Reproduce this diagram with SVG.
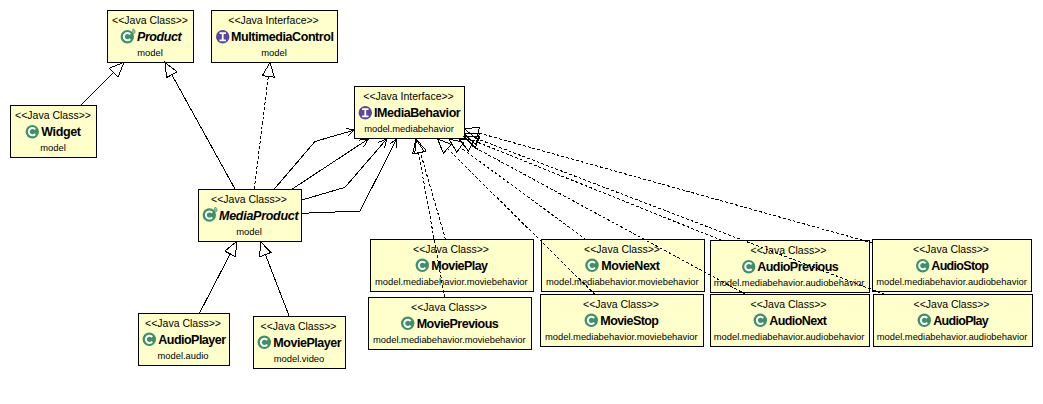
<svg xmlns="http://www.w3.org/2000/svg" width="1043" height="404" viewBox="0 0 1043 404">
<style>
text{font-family:"Liberation Sans",Arial,sans-serif;fill:#000}
.b{fill:#ffffcc;stroke:#000;stroke-width:1;shape-rendering:crispEdges}
.s{font-size:10.5px;text-anchor:middle}
.n{font-size:12.5px;font-weight:bold}
.i{font-style:italic}
.p{font-size:9.4px;text-anchor:middle}
.c{fill:none;stroke:#000;stroke-width:1;shape-rendering:crispEdges}
.m{fill:none;stroke:#000;stroke-width:1;shape-rendering:crispEdges}
.d{stroke-dasharray:3 2}
.g{marker-end:url(#tri)}
.o{marker-end:url(#open)}
</style>
<defs>
<marker id="tri" markerUnits="userSpaceOnUse" markerWidth="16" markerHeight="14" refX="0" refY="7" orient="auto" overflow="visible"><path class="m" d="M0,1 L14,7 L0,13 Z"/></marker>
<marker id="open" markerUnits="userSpaceOnUse" markerWidth="10" markerHeight="10" refX="9" refY="5" orient="auto" overflow="visible"><path class="m" d="M1,1 L9,5 L1,9"/></marker>
<g id="ic"><circle r="6.7" fill="#3f8f68"/><path d="M2.9,-2.3 A3.6,3.6 0 1 0 2.9,2.3" fill="none" stroke="#fff" stroke-width="2"/></g>
<g id="ia"><use href="#ic"/><path d="M6,-8 C8,-6 8.5,-4.5 7,-3.2 C5,-2.5 4,-5 6,-8 Z" fill="#8cc4a4" stroke="#3f8f68" stroke-width=".7"/></g>
<g id="ii"><circle r="6.7" fill="#5a479f"/><path d="M-3.2,-3.6 H3.2 M-3.2,3.6 H3.2 M0,-3.6 V3.6" fill="none" stroke="#fff" stroke-width="1.8"/></g>
</defs>

<g id="Product"><rect class="b" x="107.5" y="10.5" width="86" height="52"/><text class="s" x="150" y="24">&lt;&lt;Java Class&gt;&gt;</text><use href="#ia" x="127.3" y="36.7"/><text class="n i" x="137" y="41" textLength="44.7">Product</text><text class="p" x="150" y="56">model</text></g>
<g id="MultimediaControl"><rect class="b" x="211.5" y="10.5" width="126" height="52"/><text class="s" x="273.5" y="24">&lt;&lt;Java Interface&gt;&gt;</text><use href="#ii" x="222.7" y="36.7"/><text class="n" x="231" y="41" textLength="103">MultimediaControl</text><text class="p" x="274" y="56">model</text></g>
<g id="Widget"><rect class="b" x="10.5" y="105.5" width="86" height="52"/><text class="s" x="53" y="119">&lt;&lt;Java Class&gt;&gt;</text><use href="#ic" x="32.3" y="131.7"/><text class="n" x="41.3" y="136" textLength="39.7">Widget</text><text class="p" x="53" y="151">model</text></g>
<g id="IMediaBehavior"><rect class="b" x="354.5" y="86.5" width="110" height="52"/><text class="s" x="408.5" y="100">&lt;&lt;Java Interface&gt;&gt;</text><use href="#ii" x="365.3" y="112.7"/><text class="n" x="374" y="117" textLength="86.7">IMediaBehavior</text><text class="p" x="409" y="132">model.mediabehavior</text></g>
<g id="MediaProduct"><rect class="b" x="198.5" y="189.5" width="103" height="52"/><text class="s" x="249" y="203">&lt;&lt;Java Class&gt;&gt;</text><use href="#ia" x="209.3" y="215"/><text class="n i" x="219" y="220" textLength="79.7">MediaProduct</text><text class="p" x="249" y="235">model</text></g>
<g id="AudioPlayer"><rect class="b" x="138.5" y="313.5" width="91" height="52"/><text class="s" x="183" y="327">&lt;&lt;Java Class&gt;&gt;</text><use href="#ic" x="149.3" y="339.3"/><text class="n" x="158.3" y="344" textLength="67.7">AudioPlayer</text><text class="p" x="183" y="359">model.audio</text></g>
<g id="MoviePlayer"><rect class="b" x="253.5" y="316.5" width="92" height="52"/><text class="s" x="298.5" y="330">&lt;&lt;Java Class&gt;&gt;</text><use href="#ic" x="264.3" y="342.3"/><text class="n" x="273.3" y="347" textLength="68.4">MoviePlayer</text><text class="p" x="299" y="362">model.video</text></g>
<g id="MoviePlay"><rect class="b" x="370.5" y="239.5" width="163" height="52"/><text class="s" x="451" y="253">&lt;&lt;Java Class&gt;&gt;</text><use href="#ic" x="422.3" y="265.3"/><text class="n" x="431.3" y="270" textLength="56.7">MoviePlay</text><text class="p" x="451.3" y="285">model.mediabehavior.moviebehavior</text></g>
<g id="MoviePrevious"><rect class="b" x="368.5" y="297.5" width="163" height="52"/><text class="s" x="449" y="311">&lt;&lt;Java Class&gt;&gt;</text><use href="#ic" x="407.7" y="323.3"/><text class="n" x="416.7" y="328" textLength="82">MoviePrevious</text><text class="p" x="449.3" y="343">model.mediabehavior.moviebehavior</text></g>
<g id="MovieNext"><rect class="b" x="541.5" y="239.5" width="163" height="52"/><text class="s" x="622" y="253">&lt;&lt;Java Class&gt;&gt;</text><use href="#ic" x="592" y="265.3"/><text class="n" x="601.3" y="270" textLength="58.7">MovieNext</text><text class="p" x="622.3" y="285">model.mediabehavior.moviebehavior</text></g>
<g id="MovieStop"><rect class="b" x="540.5" y="294.5" width="163" height="52"/><text class="s" x="621" y="308">&lt;&lt;Java Class&gt;&gt;</text><use href="#ic" x="591.3" y="320.3"/><text class="n" x="600.3" y="325" textLength="58.7">MovieStop</text><text class="p" x="621.3" y="340">model.mediabehavior.moviebehavior</text></g>
<g id="AudioPrevious"><rect class="b" x="710.5" y="240.5" width="159" height="52"/><text class="s" x="788.5" y="254">&lt;&lt;Java Class&gt;&gt;</text><use href="#ic" x="748.7" y="266.7"/><text class="n" x="757.3" y="271" textLength="81.4">AudioPrevious</text><text class="p" x="789" y="286">model.mediabehavior.audiobehavior</text></g>
<g id="AudioStop"><rect class="b" x="872.5" y="239.5" width="159" height="52"/><text class="s" x="951" y="253">&lt;&lt;Java Class&gt;&gt;</text><use href="#ic" x="922.7" y="265.7"/><text class="n" x="931.3" y="270" textLength="57.7">AudioStop</text><text class="p" x="951.5" y="285">model.mediabehavior.audiobehavior</text></g>
<g id="AudioNext"><rect class="b" x="710.5" y="294.5" width="159" height="52"/><text class="s" x="788.5" y="308">&lt;&lt;Java Class&gt;&gt;</text><use href="#ic" x="760.3" y="320.3"/><text class="n" x="769.3" y="325" textLength="57.7">AudioNext</text><text class="p" x="789" y="340">model.mediabehavior.audiobehavior</text></g>
<g id="AudioPlay"><rect class="b" x="873.5" y="294.5" width="159" height="52"/><text class="s" x="951.5" y="308">&lt;&lt;Java Class&gt;&gt;</text><use href="#ic" x="924.3" y="320.3"/><text class="n" x="933.3" y="325" textLength="55.4">AudioPlay</text><text class="p" x="952" y="340">model.mediabehavior.audiobehavior</text></g>

<g id="connectors">
<path class="c g" d="M81,105 L113.6,72.4"/>
<path class="c g" d="M235,189 L171.8,74.7"/>
<path class="c d g" d="M254.3,189 L268.3,76.4"/>
<path class="c g" d="M199.3,313.5 L230.2,253.9"/>
<path class="c g" d="M289.3,316.5 L265.4,254.6"/>
<path class="c o" d="M274.3,189 L315,141.5 L354.5,130"/>
<path class="c o" d="M292.3,189 L368.3,139"/>
<path class="c o" d="M302,200 L345,187.3 L386.7,139"/>
<path class="c o" d="M302,213.3 L360,211 L396.7,139"/>
<path class="c d g" d="M445.5,239.5 L420.4,152.5"/>
<path class="c d g" d="M444.7,297.5 L418.5,152.8"/>
<path class="c d g" d="M595,294.5 L447.5,148.8"/>
<path class="c d g" d="M586,239.5 L460.3,147.3"/>
<path class="c d g" d="M746,294.5 L471.3,145.7"/>
<path class="c d g" d="M885,294.5 L477.6,139"/>
<path class="c d g" d="M722,240.5 L477.5,142.2"/>
<path class="c d g" d="M872.5,243 L478,132.8"/>
</g>
</svg>
